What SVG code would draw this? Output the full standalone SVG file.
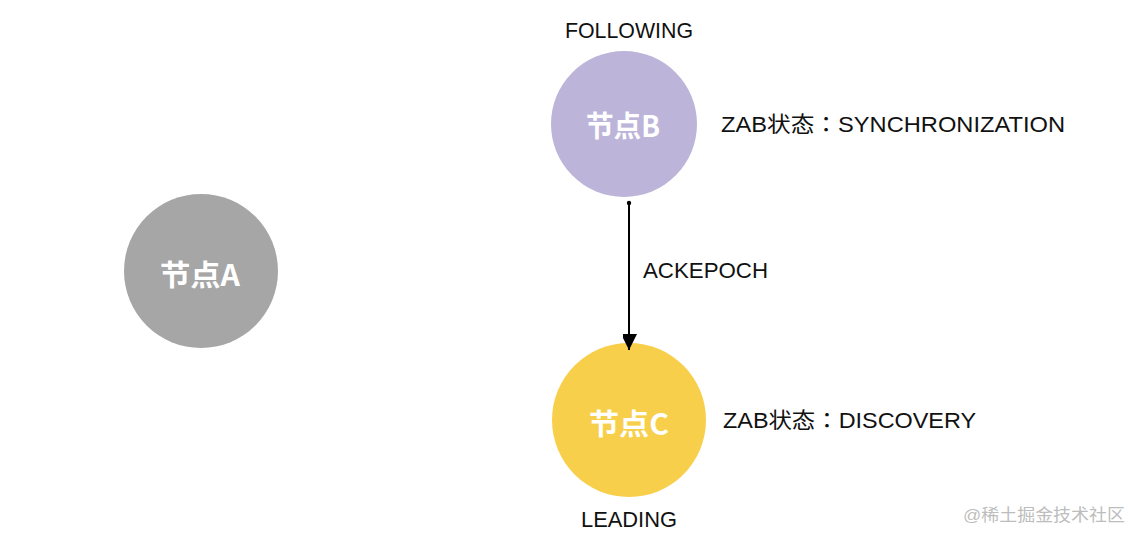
<svg xmlns="http://www.w3.org/2000/svg" width="1142" height="543" viewBox="0 0 1142 543">
<style>
.lbl{font-family:"Liberation Sans","Noto Sans CJK TC",sans-serif;font-size:22px;fill:#111}
.node{font-family:"Noto Sans CJK SC","Liberation Sans",sans-serif;font-size:29px;font-weight:bold;fill:#fff;text-anchor:middle}
.wm{font-family:"Liberation Sans","Noto Sans CJK SC",sans-serif;font-size:17px;fill:#bdbdbd}
</style>
<defs>
<marker id="arr" markerWidth="18" markerHeight="14" refX="16" refY="8" orient="auto" markerUnits="userSpaceOnUse">
<path d="M0,0 L16,8 L0,16 Z" fill="#000"/>
</marker>
</defs>
<rect width="1142" height="543" fill="#fff"/>
<g id="nodeA">
<circle cx="201" cy="271" r="77" fill="#a6a6a6"/>
<text class="node" x="200" y="286" textLength="80" lengthAdjust="spacingAndGlyphs">节点A</text>
</g>
<g id="nodeB">
<circle cx="624" cy="124" r="73" fill="#bdb5d9"/>
<text class="node" x="623" y="137" textLength="74" lengthAdjust="spacingAndGlyphs">节点B</text>
<text class="lbl" x="565" y="38" textLength="128" lengthAdjust="spacingAndGlyphs">FOLLOWING</text>
<text class="lbl" x="721" y="132" textLength="344" lengthAdjust="spacingAndGlyphs">ZAB状态：SYNCHRONIZATION</text>
</g>
<g id="nodeC">
<circle cx="629" cy="420" r="77" fill="#f8cf4a"/>
<text class="node" x="629" y="435" textLength="80" lengthAdjust="spacingAndGlyphs">节点C</text>
<text class="lbl" x="723" y="428" textLength="253" lengthAdjust="spacingAndGlyphs">ZAB状态：DISCOVERY</text>
<text class="lbl" x="581" y="527" textLength="96" lengthAdjust="spacingAndGlyphs">LEADING</text>
</g>
<g id="connectors">
<circle cx="629" cy="203" r="2.2" fill="#000"/>
<line x1="629" y1="203" x2="629" y2="350" stroke="#000" stroke-width="2" marker-end="url(#arr)"/>
<text class="lbl" x="643" y="278" textLength="125" lengthAdjust="spacingAndGlyphs">ACKEPOCH</text>
</g>
<text class="wm" x="963" y="521" textLength="162" lengthAdjust="spacingAndGlyphs">@稀土掘金技术社区</text>
</svg>
